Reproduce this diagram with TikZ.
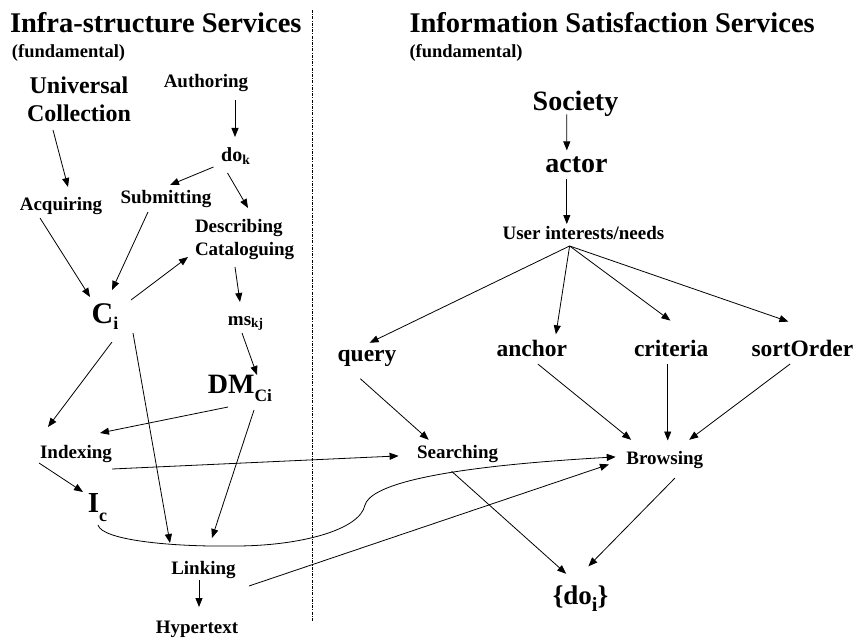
\documentclass[tikz,border=0pt]{standalone}
\usepackage{fontspec}
\setmainfont{Liberation Serif}
\usetikzlibrary{arrows.meta,calc}
% lowered, reduced index: {drop}{scale}{text}
\newcommand\lowidx[3]{\raisebox{-#1}{\scalebox{#2}{#3}}}

\begin{document}
\begin{tikzpicture}[x=1pt,y=-1pt,
  every node/.style={inner sep=0pt,outer sep=0pt,anchor=base},
  title/.style={font=\bfseries\fontsize{28.5}{34}\selectfont,anchor=base west},
  note/.style={font=\bfseries\fontsize{18.5}{22}\selectfont,anchor=base west},
  lab/.style={font=\bfseries\fontsize{19}{23}\selectfont},
  mid/.style={font=\bfseries\fontsize{23.5}{28}\selectfont},
  big/.style={font=\bfseries\fontsize{28}{33}\selectfont},
  arr/.style={-{Triangle[length=9pt,width=7pt]},line width=0.8pt},
  divider/.style={line width=0.6pt,dash pattern=on 3pt off 1.2pt on 1pt off 1.2pt}]
\useasboundingbox (0,0) rectangle (856,639);

% column headings
\node[title] (t1) at (10,32.5) {Infra-structure Services};
\node[note]  (f1) at (12,57.5) {(fundamental)};
\node[title] (t2) at (409.5,32.5) {Information Satisfaction Services};
\node[note]  (f2) at (409.5,57.5) {(fundamental)};

% separator between the two columns
\draw[divider] (312,10) -- (312,622);

% infrastructure services
\node[font=\bfseries\fontsize{24}{28}\selectfont,align=center,anchor=north] (uc) at (79,76.8) {Universal\\Collection};
\node[lab] (aut) at (206,88) {Authoring};
\node[lab,font=\bfseries\fontsize{20}{24}\selectfont] (dok) at (235.5,162) {do\lowidx{0.12em}{0.68}{k}};
\node[lab] (sub) at (166,204) {Submitting};
\node[lab] (acq) at (61,210) {Acquiring};
\node[lab,align=left,anchor=north west] (desc) at (195,219) {Describing\\Cataloguing};
\node[font=\bfseries\fontsize{30}{36}\selectfont] (ci) at (105,323) {C\lowidx{0.22em}{0.6}{i}};
\node[lab] (ms) at (245.5,325) {ms\lowidx{0.15em}{0.7}{kj}};
\node[big] (dm) at (240,393) {DM\lowidx{0.3em}{0.62}{Ci}};
\node[lab] (idx) at (76,458) {Indexing};
\node[font=\bfseries\fontsize{29}{35}\selectfont] (ic) at (97.5,512) {I\lowidx{0.32em}{0.62}{c}};
\node[lab] (lnk) at (203.5,574) {Linking};
\node[lab] (hyp) at (197,633) {Hypertext};

% information satisfaction services
\node[big] (soc) at (575.5,111) {Society};
\node[big] (act) at (576.4,172.6) {actor};
\node[lab] (usr) at (583.4,239.3) {User interests/needs};
\node[mid] (qry) at (367,361.6) {query};
\node[mid] (anc) at (531.8,356.5) {anchor};
\node[mid] (cri) at (671.2,356.5) {criteria};
\node[mid] (srt) at (802.4,356.5) {sortOrder};
\node[lab] (srch) at (457.6,458.3) {Searching};
\node[lab] (brw) at (664.8,464.4) {Browsing};
\node[font=\bfseries\fontsize{27}{32}\selectfont] (doi) at (580.5,604) {\{do\lowidx{0.28em}{0.75}{i}\}};

% left column connectors
\draw[arr] ($(aut.base)+(29,12)$) -- ($(dok.base)+(-0.5,-25)$);
\draw[arr] ($(uc.north)+(-26,53.2)$) -- ($(acq.base)+(7,-23)$);
\draw[arr] ($(dok.base)+(-22,5)$) -- ($(sub.base)+(4,-19)$);
\draw[arr] ($(dok.base)+(-8,11)$) -- ($(desc.north west)+(53,-11)$);
\draw[arr] ($(acq.base)+(-21,8)$) -- ($(ci.base)+(-15,-26)$);
\draw[arr] ($(sub.base)+(-18,8)$) -- ($(ci.base)+(7,-33)$);
\draw[arr] ($(ci.base)+(26,-23)$) -- ($(desc.north west)+(-7,38)$);
\draw[arr] ($(desc.north west)+(40,48)$) -- ($(ms.base)+(-5.5,-23)$);
\draw[arr] ($(ms.base)+(-3.5,8)$) -- ($(dm.base)+(17,-18)$);
\draw[arr] ($(ci.base)+(7,19)$) -- ($(idx.base)+(-28,-31)$);
\draw[arr] ($(dm.base)+(-12,14)$) -- ($(idx.base)+(24,-25)$);
\draw[arr] ($(ci.base)+(28,10)$) -- ($(lnk.base)+(-33.5,-31)$);
\draw[arr] ($(dm.base)+(14,17)$) -- ($(lnk.base)+(8.5,-36)$);
\draw[arr] ($(idx.base)+(-37,5)$) -- ($(ic.base)+(-14.5,-20)$);
\draw[arr] ($(lnk.base)+(-4.5,6)$) -- ($(hyp.base)+(2,-26)$);

% connectors crossing into the right column
\draw[arr] ($(idx.base)+(36,11)$) -- ($(srch.base)+(-59,-2.4)$);
\draw[arr] ($(ic.base)+(0.5,13)$)
  .. controls (102,540) and (170,547) .. (235,546)
  .. controls (300,546) and (360,530) .. (365,505)
  .. controls (370,488) and (420,468) .. ($(brw.base)+(-49.1,-7.5)$);
\draw[arr] ($(lnk.base)+(45.5,12)$) -- ($(brw.base)+(-55.9,0)$);

% right column connectors
\draw[arr] ($(soc.base)+(-8.7,3.5)$) -- ($(act.base)+(-9.6,-22.2)$);
\draw[arr] ($(act.base)+(-9.6,6.9)$) -- ($(usr.base)+(-16.6,-15.3)$);
\draw[arr] ($(usr.base)+(-13.8,6.7)$) -- ($(qry.base)+(2.6,-18.8)$);
\draw[arr] ($(usr.base)+(-13.8,6.7)$) -- ($(anc.base)+(24.1,-22.2)$);
\draw[arr] ($(usr.base)+(-13.8,6.7)$) -- ($(cri.base)+(-0.8,-35.9)$);
\draw[arr] ($(usr.base)+(-13.8,6.7)$) -- ($(srt.base)+(-14,-34.9)$);
\draw[arr] ($(qry.base)+(-6.7,17.1)$) -- ($(srch.base)+(-28.9,-18.5)$);
\draw[arr] ($(anc.base)+(6,7.5)$) -- ($(brw.base)+(-33.7,-24.6)$);
\draw[arr] ($(cri.base)+(-3.5,7.5)$) -- ($(brw.base)+(2.9,-23.9)$);
\draw[arr] ($(srt.base)+(-12.3,7.5)$) -- ($(brw.base)+(24.4,-24.6)$);
\draw[arr] ($(srch.base)+(-6,13)$) -- ($(doi.base)+(-14.3,-30.2)$);
\draw[arr] ($(brw.base)+(10.1,13.7)$) -- ($(doi.base)+(7.9,-37.7)$);
\end{tikzpicture}
\end{document}
